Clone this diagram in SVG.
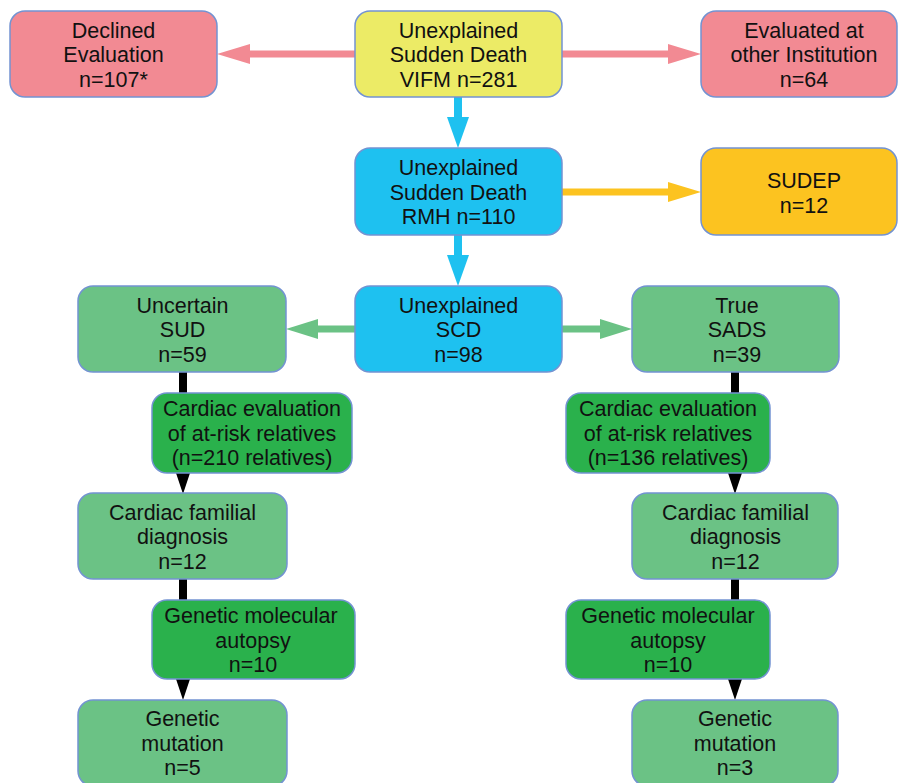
<svg xmlns="http://www.w3.org/2000/svg" width="898" height="783" viewBox="0 0 898 783">
<defs>
<style>
.box{stroke:#7393d2;stroke-width:1.5}
.pink{fill:#f28a93}
.yellow{fill:#eceb66}
.blue{fill:#1ec1f0}
.orange{fill:#fcc320}
.lgreen{fill:#6bc285}
.dgreen{fill:#2ab14c}
text{font-family:"Liberation Sans",Arial,sans-serif;font-size:21.5px;fill:#111;text-anchor:middle}
.c{fill:none}
</style>
<marker id="hPink" markerUnits="userSpaceOnUse" markerWidth="33" markerHeight="20" refX="0" refY="10" orient="auto"><path d="M0,0 L33,10 L0,20 Z" fill="#f28a93"/></marker>
<marker id="hOrange" markerUnits="userSpaceOnUse" markerWidth="33" markerHeight="20" refX="0" refY="10" orient="auto"><path d="M0,0 L33,10 L0,20 Z" fill="#fcc320"/></marker>
<marker id="hBlue" markerUnits="userSpaceOnUse" markerWidth="31" markerHeight="22" refX="0" refY="11" orient="auto"><path d="M0,0 L31,11 L0,22 Z" fill="#1ec1f0"/></marker>
<marker id="hGreen" markerUnits="userSpaceOnUse" markerWidth="32" markerHeight="20" refX="0" refY="10" orient="auto"><path d="M0,0 L32,10 L0,20 Z" fill="#6bc285"/></marker>
<marker id="hBlack" markerUnits="userSpaceOnUse" markerWidth="21" markerHeight="14" refX="0" refY="7" orient="auto"><path d="M0,0 L21,7 L0,14 Z" fill="#000"/></marker>
</defs>
<rect width="898" height="783" fill="#fff"/>
<g id="connectors">
<line x1="355" y1="54" x2="250" y2="54" stroke="#f28a93" stroke-width="7" marker-end="url(#hPink)"/>
<line x1="562" y1="54" x2="668" y2="54" stroke="#f28a93" stroke-width="7" marker-end="url(#hPink)"/>
<line x1="458" y1="97" x2="458" y2="117" stroke="#1ec1f0" stroke-width="8" marker-end="url(#hBlue)"/>
<line x1="562" y1="192" x2="668" y2="192" stroke="#fcc320" stroke-width="7" marker-end="url(#hOrange)"/>
<line x1="458" y1="235" x2="458" y2="255" stroke="#1ec1f0" stroke-width="8" marker-end="url(#hBlue)"/>
<line x1="355" y1="329" x2="318" y2="329" stroke="#6bc285" stroke-width="7" marker-end="url(#hGreen)"/>
<line x1="562" y1="329" x2="600" y2="329" stroke="#6bc285" stroke-width="7" marker-end="url(#hGreen)"/>
<line x1="183" y1="372" x2="183" y2="473" stroke="#000" stroke-width="8" marker-end="url(#hBlack)"/>
<line x1="183" y1="579" x2="183" y2="679" stroke="#000" stroke-width="8" marker-end="url(#hBlack)"/>
<line x1="735" y1="372" x2="735" y2="473" stroke="#000" stroke-width="8" marker-end="url(#hBlack)"/>
<line x1="735" y1="579" x2="735" y2="679" stroke="#000" stroke-width="8" marker-end="url(#hBlack)"/>
</g>
<g id="declined">
<rect class="box pink" x="10" y="11" width="207" height="86" rx="15"/>
<text x="113.5" y="37.5">Declined</text><text x="113.5" y="62">Evaluation</text><text x="113.5" y="86.5">n=107*</text>
</g>
<g id="vifm">
<rect class="box yellow" x="355" y="11" width="207" height="86" rx="15"/>
<text x="458.5" y="37.5">Unexplained</text><text x="458.5" y="62">Sudden Death</text><text x="458.5" y="86.5">VIFM n=281</text>
</g>
<g id="evaluated">
<rect class="box pink" x="701" y="11" width="196" height="86" rx="15"/>
<text x="804" y="37.5">Evaluated at</text><text x="804" y="62">other Institution</text><text x="804" y="86.5">n=64</text>
</g>
<g id="rmh">
<rect class="box blue" x="355" y="148" width="207" height="87" rx="15"/>
<text x="458.5" y="175">Unexplained</text><text x="458.5" y="199.5">Sudden Death</text><text x="458.5" y="224">RMH n=110</text>
</g>
<g id="sudep">
<rect class="box orange" x="701" y="148" width="196" height="87" rx="15"/>
<text x="804" y="188">SUDEP</text><text x="804" y="212.5">n=12</text>
</g>
<g id="scd">
<rect class="box blue" x="355" y="286" width="207" height="86" rx="15"/>
<text x="458.5" y="312.5">Unexplained</text><text x="458.5" y="337">SCD</text><text x="458.5" y="361.5">n=98</text>
</g>
<g id="uncertain">
<rect class="box lgreen" x="78" y="286" width="208" height="86" rx="15"/>
<text x="182.5" y="312.5">Uncertain</text><text x="182.5" y="337">SUD</text><text x="182.5" y="361.5">n=59</text>
</g>
<g id="sads">
<rect class="box lgreen" x="632" y="286" width="207" height="86" rx="15"/>
<text x="737" y="312.5">True</text><text x="737" y="337">SADS</text><text x="737" y="361.5">n=39</text>
</g>
<g id="evalLeft">
<rect class="box dgreen" x="152" y="393" width="200" height="80" rx="15"/>
<text x="252" y="416">Cardiac evaluation</text><text x="252" y="440.5">of at-risk relatives</text><text x="252" y="465">(n=210 relatives)</text>
</g>
<g id="evalRight">
<rect class="box dgreen" x="566" y="393" width="204" height="80" rx="15"/>
<text x="668" y="416">Cardiac evaluation</text><text x="668" y="440.5">of at-risk relatives</text><text x="668" y="465">(n=136 relatives)</text>
</g>
<g id="famLeft">
<rect class="box lgreen" x="78" y="493" width="209" height="86" rx="15"/>
<text x="182.5" y="519.5">Cardiac familial</text><text x="182.5" y="544">diagnosis</text><text x="182.5" y="568.5">n=12</text>
</g>
<g id="famRight">
<rect class="box lgreen" x="632" y="493" width="206" height="86" rx="15"/>
<text x="735.5" y="519.5">Cardiac familial</text><text x="735.5" y="544">diagnosis</text><text x="735.5" y="568.5">n=12</text>
</g>
<g id="molLeft">
<rect class="box dgreen" x="152" y="600" width="203" height="79" rx="15"/>
<text x="251" y="623">Genetic molecular</text><text x="253" y="647.5">autopsy</text><text x="253" y="672">n=10</text>
</g>
<g id="molRight">
<rect class="box dgreen" x="566" y="600" width="204" height="79" rx="15"/>
<text x="668" y="623">Genetic molecular</text><text x="668" y="647.5">autopsy</text><text x="668" y="672">n=10</text>
</g>
<g id="mutLeft">
<rect class="box lgreen" x="78" y="700" width="209" height="86" rx="15"/>
<text x="182.5" y="726">Genetic</text><text x="182.5" y="750.5">mutation</text><text x="182.5" y="775">n=5</text>
</g>
<g id="mutRight">
<rect class="box lgreen" x="632" y="700" width="206" height="86" rx="15"/>
<text x="735" y="726">Genetic</text><text x="735" y="750.5">mutation</text><text x="735" y="775">n=3</text>
</g>
</svg>
